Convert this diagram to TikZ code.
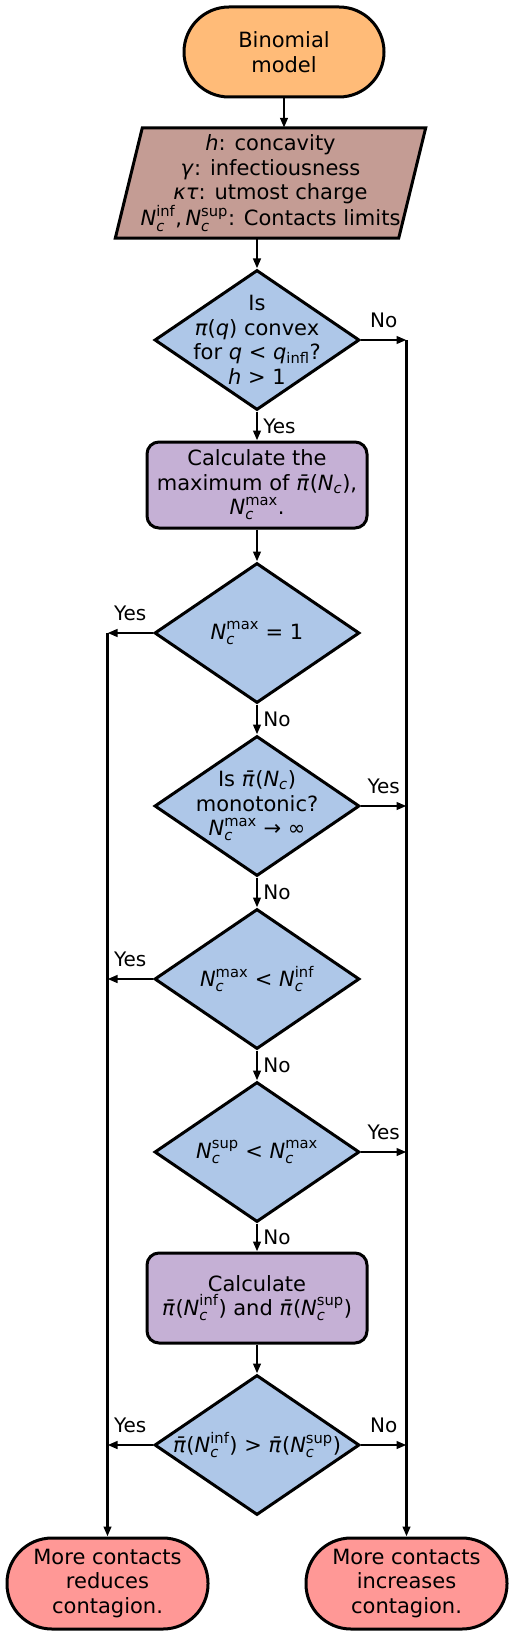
\documentclass[tikz,border=0pt]{standalone}
\usepackage{fontspec}
\usepackage{amsmath}
\setmainfont{DejaVu Sans}
\usetikzlibrary{shapes.geometric,arrows.meta}
\definecolor{cOrange}{RGB}{255,187,120}
\definecolor{cBrown}{RGB}{196,156,148}
\definecolor{cBlue}{RGB}{174,199,232}
\definecolor{cPurple}{RGB}{197,176,213}
\definecolor{cRed}{RGB}{255,152,150}
\newcommand{\Nc}[1]{$\textit{N}_{\textit{c}}^{\text{#1}}$}
\newcommand{\Ncc}{$\textit{N}_{\textit{c}}$}
\newcommand{\pib}{\textit{π̄}}
\begin{document}
\begin{tikzpicture}[x=1pt,y=1pt,
  every node/.style={font=\fontsize{21}{24.5}\selectfont, align=center},
  term/.style={draw, line width=3pt, rectangle, rounded corners=45pt, minimum width=200pt, minimum height=90pt, inner sep=0pt},
  proc/.style={draw, line width=3pt, rectangle, rounded corners=12pt, minimum width=220pt, inner sep=0pt, fill=cPurple},
  dec/.style={draw, line width=3pt, diamond, minimum width=205pt, minimum height=140pt, inner sep=0pt, fill=cBlue},
  txt/.style={inner sep=0pt},
  arr/.style={line width=2.6pt, -{Triangle[length=10pt,width=7.5pt]}},
  lbl/.style={font=\fontsize{20}{24}\selectfont, inner sep=2pt},
]
\useasboundingbox (0,0) rectangle (514,-1637);

% start
\node[term, fill=cOrange] (o1) at (284,-52) {Binomial\\model};

% parallelogram
\node[inner sep=0pt, minimum width=283pt, minimum height=110pt] (parbox) at (270.5,-183) {};
\filldraw[fill=cBrown, line width=3pt, line join=miter]
  ([xshift=13.5pt]parbox.north west) -- ([xshift=13.5pt]parbox.north east)
  -- ([xshift=-13.5pt]parbox.south east) -- ([xshift=-13.5pt]parbox.south west) -- cycle;
\node[txt] (par) at (parbox.center) {\textit{h}: concavity\\\textit{γ}: infectiousness\\\textit{κτ}: utmost charge\\\Nc{inf},\,\Nc{sup}: Contacts limits};

% decisions and processes
\node[dec] (d1) at (257,-340) {};
\node[txt] (d1t) at (d1.center) {Is\\\textit{π}(\textit{q}) convex\\for \textit{q} < \textit{q}$_{\text{infl}}$?\\\textit{h} > 1};

\node[proc, minimum height=86pt] (r1) at (257,-485) {Calculate the\\maximum of \pib(\Ncc),\\\Nc{max}.};

\node[dec] (d2) at (257,-633) {};
\node[txt] (d2t) at (d2.center) {\Nc{max} = 1};

\node[dec] (d3) at (257,-806) {};
\node[txt] (d3t) at (d3.center) {Is \pib(\Ncc)\\monotonic?\\\Nc{max} → ∞};

\node[dec] (d4) at (257,-979) {};
\node[txt] (d4t) at (d4.center) {\Nc{max} < \Nc{inf}};

\node[dec] (d5) at (257,-1152) {};
\node[txt] (d5t) at (d5.center) {\Nc{sup} < \Nc{max}};

\node[proc, minimum height=90pt] (r2) at (257,-1298) {Calculate\\\pib(\Nc{inf}) and \pib(\Nc{sup})};

\node[dec] (d6) at (257,-1445) {};
\node[txt] (d6t) at (d6.center) {\pib(\Nc{inf}) > \pib(\Nc{sup})};

% final
\node[term, fill=cRed, minimum width=201pt, minimum height=91pt] (fL) at (107.5,-1583.5) {More contacts\\reduces\\contagion.};
\node[term, fill=cRed, minimum width=201pt, minimum height=91pt] (fR) at (406.5,-1583.5) {More contacts\\increases\\contagion.};

\coordinate (rtop) at (d1.east -| fR.north);
\coordinate (ltop) at (d2.west -| fL.north);

% main vertical flow
\draw[arr] (o1.south) -- (o1.south |- parbox.north);
\draw[arr] (d1.north |- parbox.south) -- (d1.north);
\draw[arr] (d1.south) -- node[lbl, right=3pt] (y1) {Yes} (r1.north);
\draw[arr] (r1.south) -- (d2.north);
\draw[arr] (d2.south) -- node[lbl, right=3pt] (n2) {No} (d3.north);
\draw[arr] (d3.south) -- node[lbl, right=3pt] (n3) {No} (d4.north);
\draw[arr] (d4.south) -- node[lbl, right=3pt] (n4) {No} (d5.north);
\draw[arr] (d5.south) -- node[lbl, right=3pt] (n5) {No} (r2.north);
\draw[arr] (r2.south) -- (d6.north);

% right side
\draw[arr] (d1.east) -- node[lbl, above=8.5pt] (n1) {No} (rtop);
\draw[arr] (d3.east) -- node[lbl, above=8.5pt] (y3) {Yes} (d3.east -| rtop);
\draw[arr] (d5.east) -- node[lbl, above=8.5pt] (y5) {Yes} (d5.east -| rtop);
\draw[arr] (d6.east) -- node[lbl, above=8.5pt] (n6) {No} (d6.east -| rtop);
\draw[arr] (rtop) -- (fR.north);

% left side
\draw[arr] (d2.west) -- node[lbl, above=8.5pt] (y2) {Yes} (ltop);
\draw[arr] (d4.west) -- node[lbl, above=8.5pt] (y4) {Yes} (d4.west -| ltop);
\draw[arr] (d6.west) -- node[lbl, above=8.5pt] (y6) {Yes} (d6.west -| ltop);
\draw[arr] (ltop) -- (fL.north);
\end{tikzpicture}
\end{document}
